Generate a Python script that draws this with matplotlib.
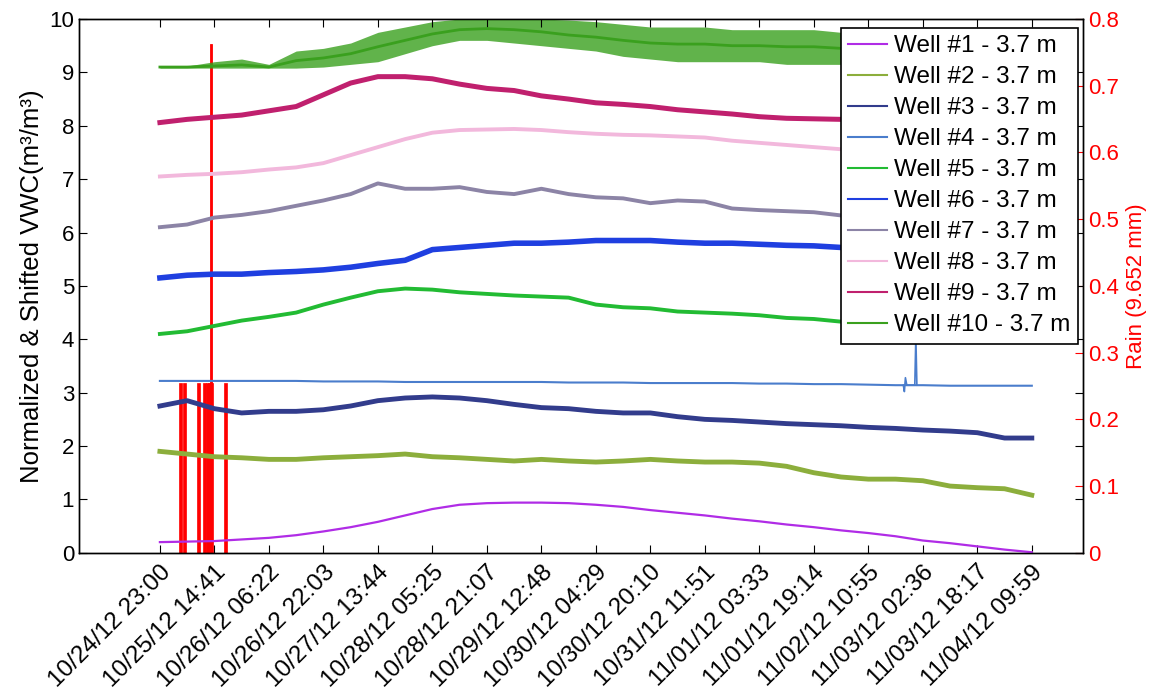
import numpy as np
import matplotlib
matplotlib.use("Agg")
import matplotlib.pyplot as plt

plt.rcParams['font.family'] = ['Liberation Sans', 'DejaVu Sans']

# tick labels on the time axis (one every 15h41m)
tick_labels = ['10/24/12 23:00', '10/25/12 14:41', '10/26/12 06:22', '10/26/12 22:03',
               '10/27/12 13:44', '10/28/12 05:25', '10/28/12 21:07', '10/29/12 12:48',
               '10/30/12 04:29', '10/30/12 20:10', '10/31/12 11:51', '11/01/12 03:33',
               '11/01/12 19:14', '11/02/12 10:55', '11/03/12 02:36', '11/03/12 18:17',
               '11/04/12 09:59']
tick_step_h = 941.19 / 60.0

# readings sampled every half tick interval (hours since 10/24/12 23:00)
n_samples = 33
t_hours = np.arange(n_samples) * tick_step_h / 2

well1 = [0.20, 0.21, 0.22, 0.25, 0.28, 0.33, 0.40, 0.48, 0.58, 0.70, 0.82, 0.90, 0.93,
         0.94, 0.94, 0.93, 0.90, 0.86, 0.80, 0.75, 0.70, 0.64, 0.59, 0.53, 0.48, 0.42,
         0.37, 0.31, 0.23, 0.18, 0.12, 0.06, 0.01]
well2 = [1.90, 1.85, 1.80, 1.78, 1.75, 1.75, 1.78, 1.80, 1.82, 1.85, 1.80, 1.78, 1.75,
         1.72, 1.75, 1.72, 1.70, 1.72, 1.75, 1.72, 1.70, 1.70, 1.68, 1.62, 1.50, 1.42,
         1.38, 1.38, 1.35, 1.25, 1.22, 1.20, 1.08]
well3 = [2.75, 2.85, 2.70, 2.62, 2.65, 2.65, 2.68, 2.75, 2.85, 2.90, 2.92, 2.90, 2.85,
         2.78, 2.72, 2.70, 2.65, 2.62, 2.62, 2.55, 2.50, 2.48, 2.45, 2.42, 2.40, 2.38,
         2.35, 2.33, 2.30, 2.28, 2.25, 2.15, 2.15]
well4 = [3.22, 3.22, 3.22, 3.22, 3.22, 3.22, 3.21, 3.21, 3.21, 3.20, 3.20, 3.20, 3.20,
         3.20, 3.20, 3.19, 3.19, 3.19, 3.18, 3.18, 3.18, 3.18, 3.17, 3.17, 3.16, 3.16,
         3.15, 3.14, 3.14, 3.13, 3.13, 3.13, 3.13]
well4_spike_t = [214.0, 214.3, 214.6, 215.0, 217.3, 217.6, 217.9]
well4_spike_v = [3.14, 3.02, 3.28, 3.14, 3.14, 4.05, 3.14]
well5 = [4.10, 4.15, 4.25, 4.35, 4.42, 4.50, 4.65, 4.78, 4.90, 4.95, 4.93, 4.88, 4.85,
         4.82, 4.80, 4.78, 4.65, 4.60, 4.58, 4.52, 4.50, 4.48, 4.45, 4.40, 4.38, 4.33,
         4.32, 4.30, 4.28, 4.26, 4.24, 4.22, 4.20]
well6 = [5.15, 5.20, 5.22, 5.22, 5.25, 5.27, 5.30, 5.35, 5.42, 5.48, 5.68, 5.72, 5.76,
         5.80, 5.80, 5.82, 5.85, 5.85, 5.85, 5.82, 5.80, 5.80, 5.78, 5.76, 5.75, 5.72,
         5.70, 5.70, 5.68, 5.68, 5.66, 5.65, 5.65]
well7 = [6.10, 6.15, 6.28, 6.33, 6.40, 6.50, 6.60, 6.72, 6.92, 6.82, 6.82, 6.85, 6.76,
         6.72, 6.82, 6.72, 6.66, 6.64, 6.55, 6.60, 6.58, 6.45, 6.42, 6.40, 6.38, 6.32,
         6.30, 6.28, 6.26, 6.25, 6.24, 6.22, 6.20]
well8 = [7.05, 7.08, 7.10, 7.13, 7.18, 7.22, 7.30, 7.45, 7.60, 7.75, 7.87, 7.92, 7.93,
         7.94, 7.92, 7.88, 7.85, 7.83, 7.82, 7.80, 7.78, 7.72, 7.68, 7.64, 7.60, 7.56,
         7.53, 7.50, 7.48, 7.46, 7.44, 7.42, 7.40]
well9 = [8.06, 8.12, 8.16, 8.20, 8.28, 8.36, 8.58, 8.80, 8.92, 8.92, 8.88, 8.78, 8.70,
         8.66, 8.56, 8.50, 8.43, 8.40, 8.36, 8.30, 8.26, 8.22, 8.17, 8.14, 8.13, 8.12,
         8.10, 8.08, 8.06, 8.05, 8.04, 8.03, 8.02]
well10 = [9.10, 9.10, 9.12, 9.14, 9.10, 9.22, 9.27, 9.35, 9.48, 9.60, 9.72, 9.80, 9.82,
          9.80, 9.76, 9.70, 9.66, 9.60, 9.55, 9.53, 9.53, 9.50, 9.50, 9.48, 9.48, 9.45,
          9.45, 9.45, 9.45, 9.45, 9.45, 9.45, 9.45]
well10_lo = [9.08, 9.08, 9.08, 9.08, 9.08, 9.08, 9.10, 9.15, 9.20, 9.35, 9.50, 9.60, 9.60,
             9.55, 9.50, 9.45, 9.40, 9.30, 9.25, 9.20, 9.20, 9.20, 9.20, 9.15, 9.15, 9.15,
             9.15, 9.15, 9.15, 9.15, 9.15, 9.15, 9.15]
well10_hi = [9.12, 9.12, 9.20, 9.25, 9.15, 9.40, 9.45, 9.55, 9.75, 9.85, 9.95, 10.0, 10.0,
             10.0, 10.0, 9.98, 9.95, 9.90, 9.85, 9.85, 9.85, 9.80, 9.80, 9.80, 9.80, 9.75,
             9.75, 9.75, 9.75, 9.75, 9.75, 9.75, 9.75]

# rain gauge tips (hours, mm)
rain_t = [5.9, 7.05, 11.2, 12.8, 13.6, 14.4, 15.0, 19.0]
rain_mm = [0.254, 0.254, 0.254, 0.254, 0.254, 0.254, 0.254, 0.254]
rain_big_t = [14.7]
rain_big_mm = [0.762]

names = ['Well #%d - 3.7 m' % i for i in range(1, 11)]
colors = ['#B02CE6', '#8CAE3C', '#323C8C', '#4A7DCC', '#22BB33',
          '#1F3FE0', '#8C84A6', '#F2B8DC', '#C0206E', '#3AA01E']
widths = [1.6, 3.5, 3.5, 1.5, 2.8, 4.0, 2.8, 2.8, 3.6, 2.0]
wells = [well1, well2, well3, well4, well5, well6, well7, well8, well9, well10]

fig = plt.figure(figsize=(11.56, 6.91), dpi=100)
ax = fig.add_axes([0.0683, 0.2, 0.8685, 0.7725])
ax2 = ax.twinx()

ax2.bar(rain_t, rain_mm, width=0.85, color='red', edgecolor='red', linewidth=0.5, zorder=1)
ax2.bar(rain_big_t, rain_big_mm, width=0.35, color='red', edgecolor='red', linewidth=0.6)
ax2.set_ylim(0, 0.8)
ax2.set_yticks(np.arange(0, 0.81, 0.1))
ax2.set_yticklabels(['0', '0.1', '0.2', '0.3', '0.4', '0.5', '0.6', '0.7', '0.8'])
ax2.tick_params(axis='y', colors='red', direction='in', length=6, labelsize=16, pad=4)
ax2.set_ylabel('Rain (9.652 mm)', color='red', fontsize=16, labelpad=5)

# wells are drawn on top of the rain bars
ax.set_zorder(ax2.get_zorder() + 1)
ax.patch.set_visible(False)
ax2.patch.set_visible(True)
ax2.patch.set_facecolor('white')

lines = []
for i in range(10):
    if i == 9:
        ax.fill_between(t_hours, well10_lo, well10_hi, color=colors[i], linewidth=0, alpha=0.8)
    l, = ax.plot(t_hours, wells[i], color=colors[i], linewidth=widths[i], solid_joinstyle='round')
    lines.append(l)
ax.plot(well4_spike_t, well4_spike_v, color=colors[3], linewidth=1.2)

ax.set_xlim(-23.3, 265.7)
ax.set_ylim(0, 10)
ax.set_yticks(range(0, 11))
ax.set_xticks(np.arange(len(tick_labels)) * tick_step_h)
ax.set_xticklabels(tick_labels, rotation=45, ha='right', rotation_mode='anchor')
ax.tick_params(axis='both', direction='in', length=6, labelsize=16, top=True, right=True)
ax.tick_params(axis='x', pad=6, labelsize=17.5)
ax.set_ylabel('Normalized & Shifted VWC(m³/m³)', fontsize=18.5, labelpad=4)

for s in ['left', 'right', 'top', 'bottom']:
    ax.spines[s].set_linewidth(1.0)
    ax2.spines[s].set_linewidth(1.0)

leg = ax.legend(lines, names, loc='upper right', bbox_to_anchor=(0.995, 0.983),
                borderaxespad=0, fancybox=False, framealpha=1, edgecolor='black',
                fontsize=17.5, labelspacing=0.37, handlelength=1.6, handletextpad=0.3,
                borderpad=0.3)
leg.get_frame().set_linewidth(1.2)
for h in leg.get_lines():
    h.set_linewidth(1.5)

fig.savefig('out.png', dpi=100)
